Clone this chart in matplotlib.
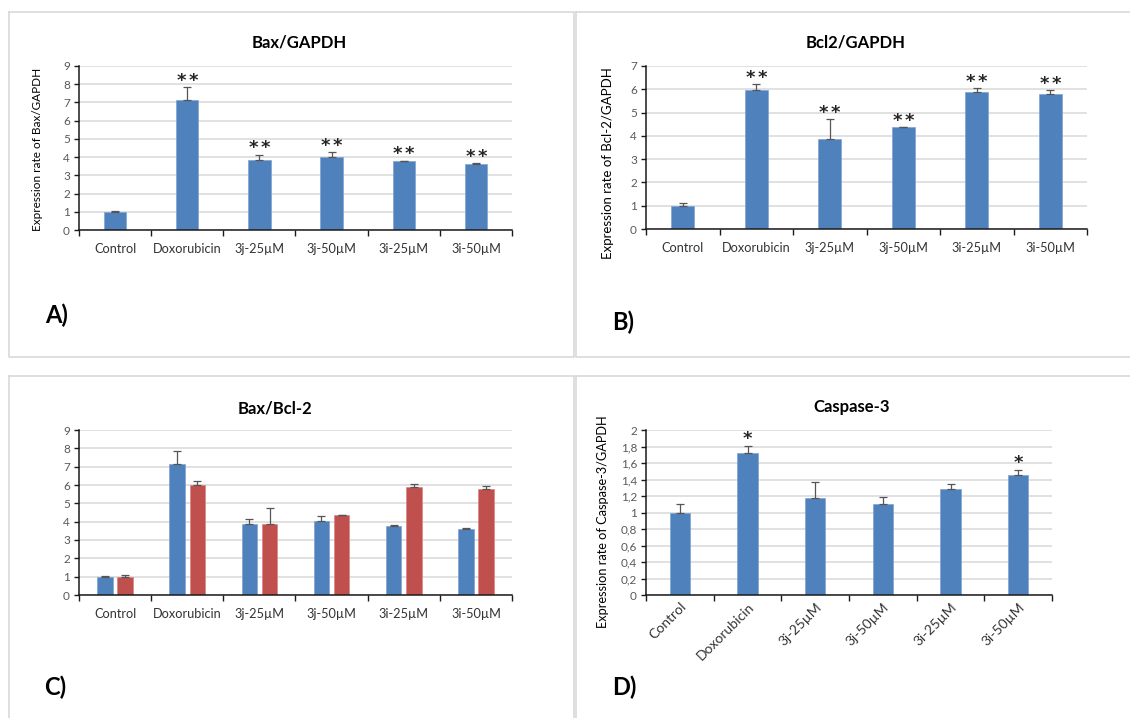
import matplotlib
matplotlib.use("Agg")
import matplotlib.pyplot as plt
from matplotlib.lines import Line2D
import numpy as np

# ---------------- data ----------------
categories = ["Control", "Doxorubicin", "3j-25µM", "3j-50µM", "3i-25µM", "3i-50µM"]

bax = [1.0, 7.12, 3.85, 4.01, 3.78, 3.60]
bax_err = [0.04, 0.73, 0.28, 0.28, 0.03, 0.08]
bax_sig = [0, 2, 2, 2, 2, 2]

bcl2 = [1.0, 5.99, 3.88, 4.37, 5.88, 5.78]
bcl2_err = [0.10, 0.24, 0.84, 0.02, 0.18, 0.17]
bcl2_sig = [0, 2, 2, 2, 2, 2]

casp = [1.0, 1.72, 1.17, 1.10, 1.29, 1.46]
casp_err = [0.10, 0.09, 0.20, 0.09, 0.06, 0.06]
casp_sig = [0, 1, 0, 0, 0, 1]

bax_ticks = [0, 1, 2, 3, 4, 5, 6, 7, 8, 9]
bcl2_ticks = [0, 1, 2, 3, 4, 5, 6, 7]
casp_ticks = [0, 0.2, 0.4, 0.6, 0.8, 1.0, 1.2, 1.4, 1.6, 1.8, 2.0]
casp_tick_labels = ["0", "0,2", "0,4", "0,6", "0,8", "1", "1,2", "1,4", "1,6", "1,8", "2"]

# ---------------- style ----------------
W, H = 1130, 718
BLUE = "#4F81BD"
RED = "#C0504D"
GRID = "#D9D9D9"
TICKC = "#595959"
FONT = "Lato"
plt.rcParams["font.family"] = [FONT, "DejaVu Sans"]

fig = plt.figure(figsize=(W / 100, H / 100), dpi=100)
fig.patch.set_facecolor("white")


def fx(x):
    return x / W


def fy(y):
    return 1 - y / H


def add_ax(left, right, top, bottom):
    return fig.add_axes([fx(left), fy(bottom), fx(right - left), (bottom - top) / H])


def style_ax(ax, ymax, yticks, ylabels=None, rotate=False):
    n = len(categories)
    ax.set_xlim(-0.5, n - 0.5)
    ax.set_ylim(0, ymax)
    ax.set_yticks(yticks)
    if ylabels is not None:
        ax.set_yticklabels(ylabels)
    ax.yaxis.grid(True, color=GRID, linewidth=1.1)
    ax.set_axisbelow(True)
    for s in ["top", "right"]:
        ax.spines[s].set_visible(False)
    for s in ["left", "bottom"]:
        ax.spines[s].set_color("#1a1a1a")
        ax.spines[s].set_linewidth(1.1)
    ax.tick_params(axis="y", direction="out", length=3.5, width=1.0, color="#1a1a1a",
                   labelsize=8.5, labelcolor=TICKC, pad=3)
    ax.set_xticks(np.arange(n))
    ax.set_xticks(np.arange(n + 1) - 0.5, minor=True)
    ax.tick_params(axis="x", which="minor", direction="out", length=4, width=1.0, color="#1a1a1a")
    if rotate:
        ax.set_xticklabels(categories, rotation=45, ha="right", va="top", rotation_mode="anchor")
        ax.tick_params(axis="x", which="major", length=0, labelsize=10, labelcolor="#333333", pad=4)
    else:
        ax.set_xticklabels(categories)
        ax.tick_params(axis="x", which="major", length=0, labelsize=9.2, labelcolor="#333333", pad=9)


def stars(ax, xs, tops, counts, off=4.5):
    for x, t, c in zip(xs, tops, counts):
        offs = [0.0] if c == 1 else ([-4.3, 4.3] if c == 2 else [])
        for dx in offs:
            ax.annotate("*", (x, t), xytext=(dx, off), textcoords="offset points",
                        ha="center", va="center", fontsize=13, fontweight="bold",
                        color="#262626", family="DejaVu Sans")


err_kw = dict(ecolor="#555555", elinewidth=0.9, capthick=0.9)
CAP = 2.6
x = np.arange(len(categories))
zeros = [0] * len(categories)

# ---------------- panel borders ----------------
bc = "#D9D9D9"
for (x0, y0, x1, y1) in [(9, 12, 574, 357), (576, 12, 1140, 357),
                         (9, 376, 574, 730), (576, 376, 1140, 730)]:
    fig.add_artist(Line2D([fx(x0), fx(x1), fx(x1), fx(x0), fx(x0)],
                          [fy(y0), fy(y0), fy(y1), fy(y1), fy(y0)],
                          color=bc, lw=1.2, transform=fig.transFigure))

# ---------------- A ----------------
axA = add_ax(79, 512, 66, 230)
axA.bar(x, bax, width=0.31, color=BLUE, edgecolor="#7FA3D0", linewidth=0.5,
        yerr=[zeros, bax_err], capsize=CAP, error_kw=err_kw)
style_ax(axA, 9, bax_ticks)
stars(axA, x, np.add(bax, bax_err), bax_sig)
fig.text(fx(299), fy(43), "Bax/GAPDH", ha="center", va="center", fontsize=12, fontweight="bold")
fig.text(fx(38), fy(149), "Expression rate of Bax/GAPDH", rotation=90, ha="center", va="center", fontsize=8.5)
fig.text(fx(45), fy(315), "A)", ha="left", va="center", fontsize=17, fontweight="bold")

# ---------------- B ----------------
axB = add_ax(646, 1087, 66, 229)
axB.bar(x, bcl2, width=0.31, color=BLUE, edgecolor="#7FA3D0", linewidth=0.5,
        yerr=[zeros, bcl2_err], capsize=CAP, error_kw=err_kw)
style_ax(axB, 7, bcl2_ticks)
stars(axB, x, np.add(bcl2, bcl2_err), bcl2_sig)
fig.text(fx(856), fy(43), "Bcl2/GAPDH", ha="center", va="center", fontsize=12, fontweight="bold")
fig.text(fx(608), fy(163), "Expression rate of Bcl-2/GAPDH", rotation=90, ha="center", va="center", fontsize=9.5)
fig.text(fx(612), fy(322), "B)", ha="left", va="center", fontsize=17, fontweight="bold")

# ---------------- C ----------------
axC = add_ax(79, 512, 430, 595)
axC.bar(x - 0.14, bax, width=0.215, color=BLUE, edgecolor="#7FA3D0", linewidth=0.5,
        yerr=[zeros, bax_err], capsize=CAP, error_kw=err_kw)
axC.bar(x + 0.14, bcl2, width=0.215, color=RED, edgecolor="#D98583", linewidth=0.5,
        yerr=[zeros, bcl2_err], capsize=CAP, error_kw=err_kw)
style_ax(axC, 9, bax_ticks)
fig.text(fx(275), fy(408), "Bax/Bcl-2", ha="center", va="center", fontsize=12, fontweight="bold")
fig.text(fx(44), fy(687), "C)", ha="left", va="center", fontsize=17, fontweight="bold")

# ---------------- D ----------------
axD = add_ax(646, 1052, 430, 595)
axD.bar(x, casp, width=0.305, color=BLUE, edgecolor="#7FA3D0", linewidth=0.5,
        yerr=[zeros, casp_err], capsize=CAP, error_kw=err_kw)
style_ax(axD, 2, casp_ticks, casp_tick_labels, rotate=True)
stars(axD, x, np.add(casp, casp_err), casp_sig)
fig.text(fx(852), fy(407), "Caspase-3", ha="center", va="center", fontsize=12, fontweight="bold")
fig.text(fx(603), fy(522), "Expression rate of Caspase-3/GAPDH", rotation=90, ha="center", va="center", fontsize=9.2)
fig.text(fx(612), fy(687), "D)", ha="left", va="center", fontsize=17, fontweight="bold")

fig.savefig("out.png", dpi=100, facecolor="white")
